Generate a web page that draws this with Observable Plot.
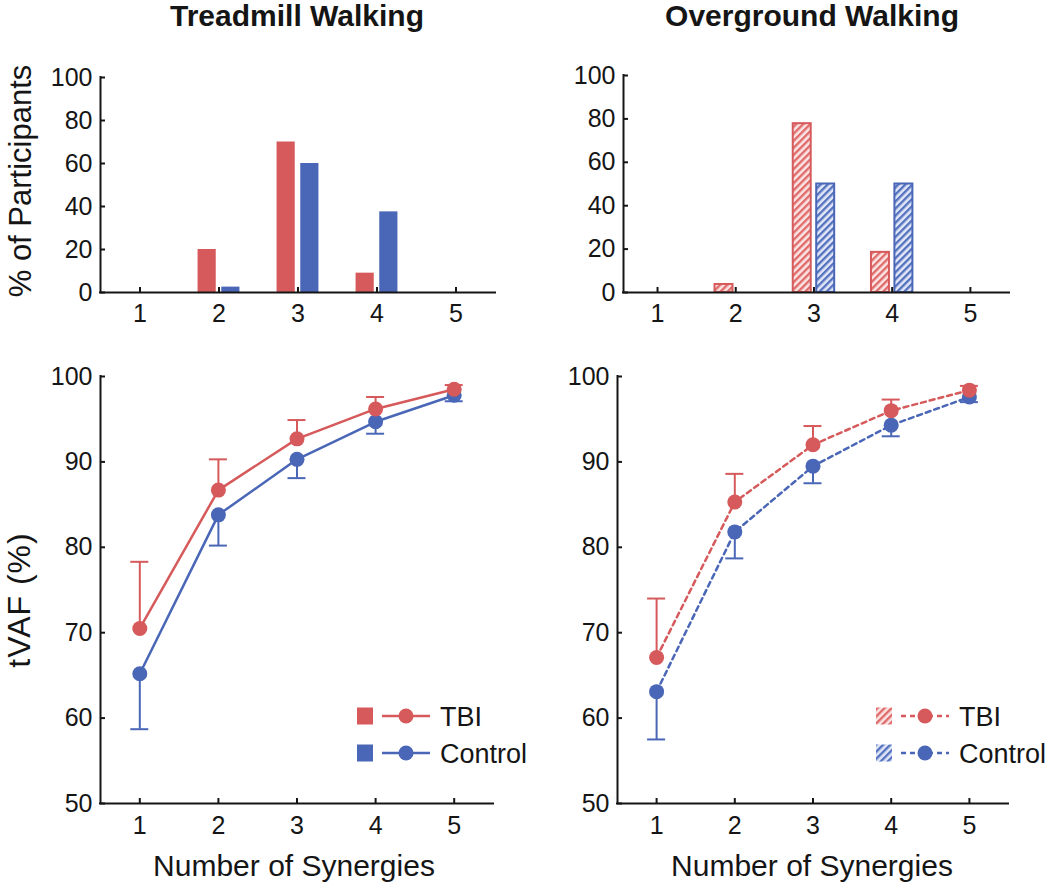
<!DOCTYPE html>
<html><head><meta charset="utf-8">
<script src="https://cdn.jsdelivr.net/npm/d3@7"></script>
<script src="https://cdn.jsdelivr.net/npm/@observablehq/plot@0.6"></script>
<style>
body{margin:0;background:#fff;}
#root{position:relative;width:1050px;height:889px;font-family:"Liberation Sans",Arial,Helvetica,sans-serif;color:#1a1a1a;overflow:hidden;}
</style></head>
<body>
<svg width="0" height="0" style="position:absolute">
 <defs>
  <pattern id="hatchRed" patternUnits="userSpaceOnUse" width="5" height="5" patternTransform="rotate(45)">
   <rect width="5" height="5" fill="#fbe4e4"/>
   <rect width="2.4" height="5" fill="#e06b6b"/>
  </pattern>
  <pattern id="hatchBlue" patternUnits="userSpaceOnUse" width="5" height="5" patternTransform="rotate(45)">
   <rect width="5" height="5" fill="#e3e8f7"/>
   <rect width="2.4" height="5" fill="#5572c0"/>
  </pattern>
 </defs>
</svg>
<div id="root"></div>
<script>
// ---------- data ----------
const synergies = [1, 2, 3, 4, 5];
const groups = ["TBI", "Control"];
const pctTicks = [0, 20, 40, 60, 80, 100];
const vafTicks = [50, 60, 70, 80, 90, 100];

const treadmillPctTBI = [0, 20, 70, 9, 0];
const treadmillPctControl = [0, 2.5, 60, 37.5, 0];
const overgroundPctTBI = [0, 3.7, 77.8, 18.5, 0];
const overgroundPctControl = [0, 0, 50, 50, 0];

const treadmillVafTBI = [70.5, 86.7, 92.7, 96.2, 98.5];
const treadmillVafTBISD = [7.8, 3.6, 2.2, 1.4, 0.5];
const treadmillVafControl = [65.2, 83.8, 90.3, 94.7, 97.8];
const treadmillVafControlSD = [6.5, 3.6, 2.2, 1.4, 0.7];
const overgroundVafTBI = [67.1, 85.3, 92.0, 96.0, 98.4];
const overgroundVafTBISD = [6.9, 3.3, 2.2, 1.3, 0.5];
const overgroundVafControl = [63.1, 81.8, 89.5, 94.3, 97.6];
const overgroundVafControlSD = [5.6, 3.1, 2.0, 1.3, 0.6];

const titles = ["Treadmill Walking", "Overground Walking"];
const xLabel = "Number of Synergies";
const yLabelTop = "% of Participants";
const yLabelBottom = "tVAF (%)";

// ---------- style ----------
const RED = "#d65a5b";
const BLUE = "#4a66b6";
const INK = "#151515";
const FONT = '"Liberation Sans", Arial, Helvetica, sans-serif';
const root = document.getElementById("root");

function place(el, left, top) {
  el.style.position = "absolute";
  el.style.left = left + "px";
  el.style.top = top + "px";
  root.append(el);
}

function axisMarks(xTicks, yTicks, xPad) {
  return [
    Plot.axisX({ticks: xTicks, tickSize: 5, dy: -5, fill: "none", stroke: INK, strokeWidth: 2, label: null}),
    Plot.axisY({ticks: yTicks, tickSize: 5, dx: 5, fill: "none", stroke: INK, strokeWidth: 2, label: null}),
    Plot.axisX({ticks: xTicks, tickSize: 0, tickPadding: xPad, label: null, tickFormat: d3.format("d")}),
    Plot.axisY({ticks: yTicks, tickSize: 0, tickPadding: 8, label: null, tickFormat: d3.format("d")})
  ];
}

function barRows(tbi, ctl) {
  return synergies.flatMap((n, i) => [
    {n, group: groups[0], pct: tbi[i]},
    {n, group: groups[1], pct: ctl[i]}
  ]).filter(d => d.pct > 0);
}

function barPlot(rows, xDomain, margins, hatched) {
  const tbi = rows.filter(d => d.group === "TBI");
  const ctl = rows.filter(d => d.group === "Control");
  const off = d => d.group === "TBI" ? [-0.265, -0.035] : [0.035, 0.265];
  const barOpts = (color, pat) => ({
    x1: d => d.n + off(d)[0], x2: d => d.n + off(d)[1], y1: 0, y2: "pct",
    fill: hatched ? pat : color,
    stroke: hatched ? color : "none", strokeWidth: hatched ? 2 : 0
  });
  return Plot.plot({
    width: 525, height: 300, ...margins,
    style: {fontSize: "25px", fontFamily: FONT, color: INK, background: "transparent", overflow: "visible"},
    x: {domain: xDomain},
    y: {domain: [0, 100]},
    marks: [
      Plot.rectY(tbi, barOpts(RED, "url(#hatchRed)")),
      Plot.rectY(ctl, barOpts(BLUE, "url(#hatchBlue)")),
      ...axisMarks(synergies, pctTicks, 12),
      Plot.ruleY([0], {stroke: INK, strokeWidth: 2, strokeLinecap: "square"}),
      Plot.ruleX([xDomain[0]], {stroke: INK, strokeWidth: 2, strokeLinecap: "square"})
    ]
  });
}

function vafRows(group, v, sd, dir) {
  return synergies.map((n, i) => ({n, group, v: v[i], end: v[i] + dir * sd[i]}));
}

function vafPlot(tbiRows, ctlRows, xDomain, margins, dash) {
  const series = (rows, color) => [
    Plot.line(rows, {x: "n", y: "v", stroke: color, strokeWidth: 2.5, strokeDasharray: dash}),
    Plot.ruleX(rows, {x: "n", y1: "v", y2: "end", stroke: color, strokeWidth: 2}),
    Plot.ruleY(rows, {x1: "n", x2: "n", y: "end", insetLeft: -9, insetRight: -9, stroke: color, strokeWidth: 2}),
    Plot.dot(rows, {x: "n", y: "v", r: 7.5, fill: color, stroke: "none"})
  ];
  return Plot.plot({
    width: 525, height: 549, ...margins,
    style: {fontSize: "25px", fontFamily: FONT, color: INK, background: "transparent", overflow: "visible"},
    x: {domain: xDomain},
    y: {domain: [50, 100]},
    marks: [
      ...series(ctlRows, BLUE),
      ...series(tbiRows, RED),
      ...axisMarks(synergies, vafTicks, 13),
      Plot.ruleY([50], {stroke: INK, strokeWidth: 2, strokeLinecap: "square"}),
      Plot.ruleX([xDomain[0]], {stroke: INK, strokeWidth: 2, strokeLinecap: "square"})
    ]
  });
}

place(barPlot(barRows(treadmillPctTBI, treadmillPctControl), [0.5, 5.5],
  {marginLeft: 100, marginRight: 30, marginTop: 37, marginBottom: 48}, false), 0, 40);
place(barPlot(barRows(overgroundPctTBI, overgroundPctControl), [0.565, 5.5],
  {marginLeft: 98, marginRight: 41, marginTop: 35, marginBottom: 48}, true), 525, 40);
place(vafPlot(vafRows("TBI", treadmillVafTBI, treadmillVafTBISD, 1),
  vafRows("Control", treadmillVafControl, treadmillVafControlSD, -1), [0.5, 5.5],
  {marginLeft: 100, marginRight: 32, marginTop: 36, marginBottom: 86}, null), 0, 340);
place(vafPlot(vafRows("TBI", overgroundVafTBI, overgroundVafTBISD, 1),
  vafRows("Control", overgroundVafControl, overgroundVafControlSD, -1), [0.5, 5.5],
  {marginLeft: 92, marginRight: 42, marginTop: 36, marginBottom: 86}, "5,4"), 525, 340);

// ---------- overlay: titles, axis labels, legends ----------
const ov = d3.create("svg").attr("width", 1050).attr("height", 889)
  .style("font-family", FONT).style("pointer-events", "none");
ov.append("text").attr("x", 297).attr("y", 26).attr("text-anchor", "middle")
  .attr("font-size", 30).attr("font-weight", "bold").attr("fill", INK).text(titles[0]);
ov.append("text").attr("x", 812).attr("y", 26).attr("text-anchor", "middle")
  .attr("font-size", 30).attr("font-weight", "bold").attr("fill", INK).text(titles[1]);
ov.append("text").attr("transform", "translate(31,181) rotate(-90)").attr("text-anchor", "middle")
  .attr("font-size", 31).attr("fill", INK).text(yLabelTop);
ov.append("text").attr("transform", "translate(30,600) rotate(-90)").attr("text-anchor", "middle")
  .attr("font-size", 32).attr("letter-spacing", 1).attr("fill", INK).text(yLabelBottom);
ov.append("text").attr("x", 294).attr("y", 876).attr("text-anchor", "middle")
  .attr("font-size", 30).attr("fill", INK).text(xLabel);
ov.append("text").attr("x", 812).attr("y", 876).attr("text-anchor", "middle")
  .attr("font-size", 30).attr("fill", INK).text(xLabel);

function legend(x0, y0, hatched, dash) {
  const colors = [RED, BLUE];
  const pats = ["url(#hatchRed)", "url(#hatchBlue)"];
  groups.forEach((g, i) => {
    const cy = y0 + i * 37;
    const c = colors[i];
    ov.append("rect").attr("x", x0).attr("y", cy - 8.5).attr("width", 16).attr("height", 17)
      .attr("fill", hatched ? pats[i] : c);
    ov.append("line").attr("x1", x0 + 25).attr("x2", x0 + 73).attr("y1", cy).attr("y2", cy)
      .attr("stroke", c).attr("stroke-width", 2.5).attr("stroke-dasharray", dash);
    ov.append("circle").attr("cx", x0 + 49).attr("cy", cy).attr("r", 7.5).attr("fill", c);
    ov.append("text").attr("x", x0 + 83).attr("y", cy + 9.5).attr("font-size", 27).attr("fill", INK).text(g);
  });
}
legend(357, 716, false, null);
legend(876, 716, true, "5,4");

place(ov.node(), 0, 0);
</script>
</body></html>
